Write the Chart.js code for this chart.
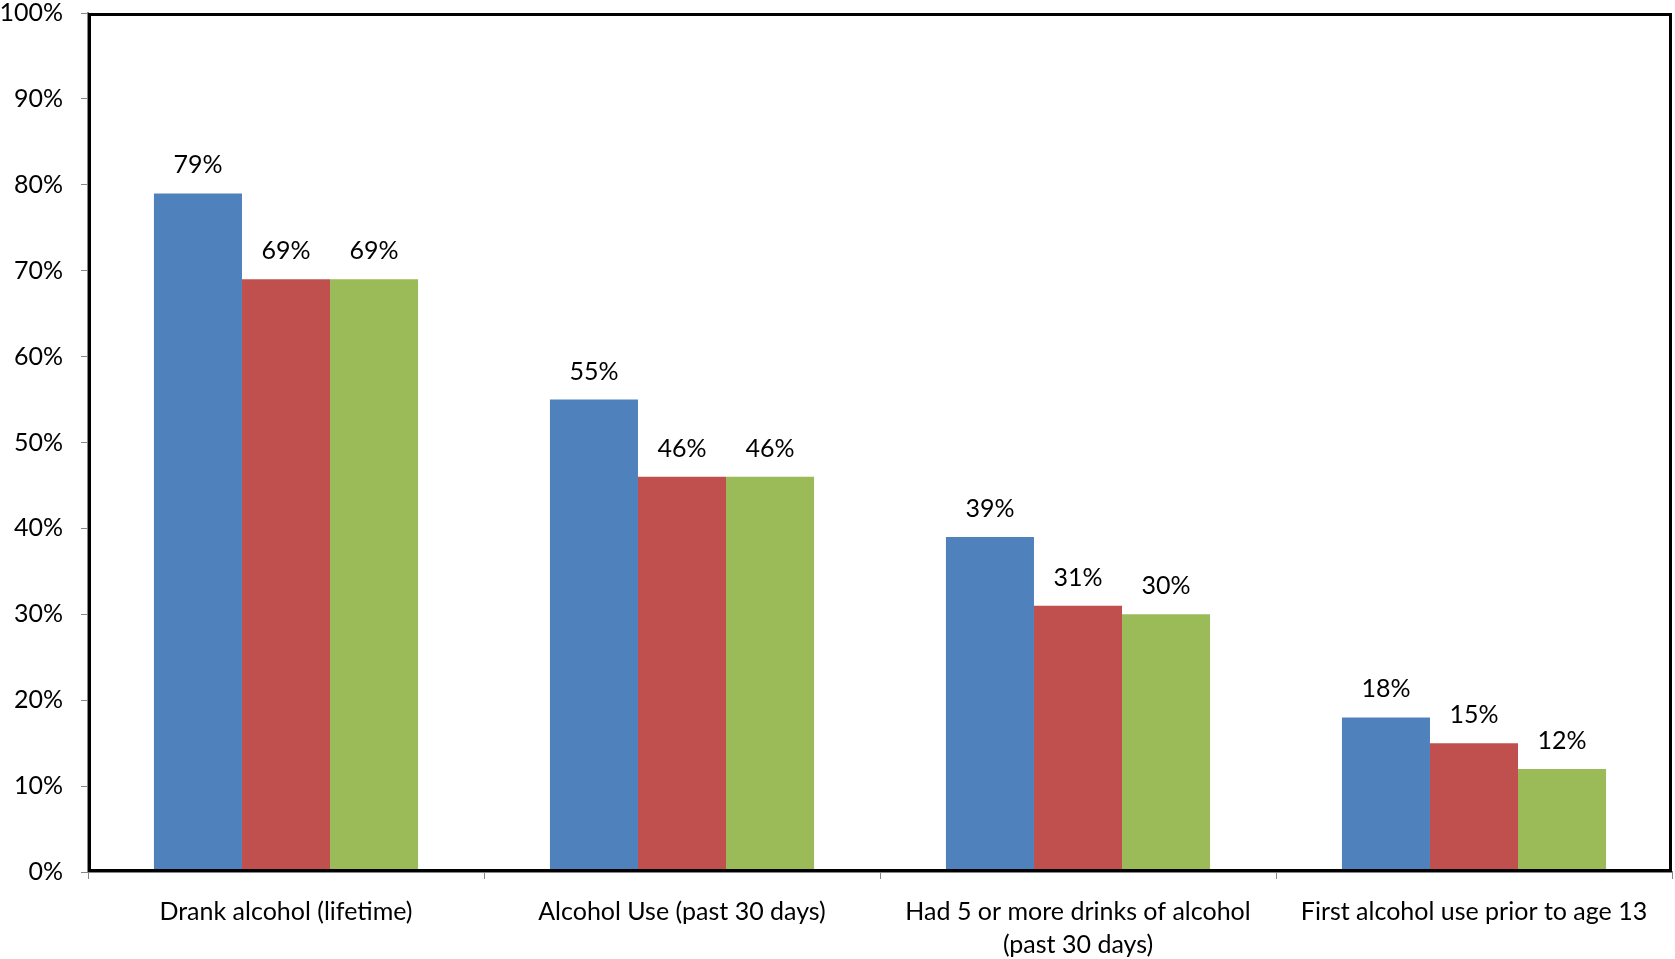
<!DOCTYPE html>
<html>
<head>
<meta charset="utf-8">
<script src="https://cdn.jsdelivr.net/npm/chart.js@4"></script>
<style>
  html, body { margin: 0; padding: 0; background: #fff; }
  canvas { display: block; }
</style>
</head>
<body>
<canvas id="chart" width="1675" height="959"></canvas>
<script>
// Alcohol use indicators, three groups (blue / red / green)
const categories = [
  'Drank alcohol (lifetime)',
  'Alcohol Use (past 30 days)',
  ['Had 5 or more drinks of alcohol', '(past 30 days)'],
  'First alcohol use prior to age 13'
];
const seriesBlue = [79, 55, 39, 18];
const seriesRed = [69, 46, 31, 15];
const seriesGreen = [69, 46, 30, 12];
const yTicks = [0, 10, 20, 30, 40, 50, 60, 70, 80, 90, 100];

const FONT = 'Lato, "Open Sans", sans-serif';

// black frame around the plot area
const framePlugin = {
  id: 'frame',
  afterDatasetsDraw(chart) {
    const a = chart.chartArea, ctx = chart.ctx;
    ctx.save();
    ctx.strokeStyle = '#000';
    ctx.lineWidth = 3;
    ctx.strokeRect(a.left + 1.5, a.top + 1.5, a.right - a.left - 3, a.bottom - a.top - 3);
    ctx.restore();
  }
};

// value labels above each bar
const valueLabels = {
  id: 'valueLabels',
  afterDatasetsDraw(chart) {
    const ctx = chart.ctx;
    ctx.save();
    ctx.font = '25px ' + FONT;
    ctx.fillStyle = '#000';
    ctx.textAlign = 'center';
    ctx.textBaseline = 'middle';
    chart.data.datasets.forEach((ds, i) => {
      chart.getDatasetMeta(i).data.forEach((bar, j) => {
        ctx.fillText(ds.data[j] + '%', bar.x, bar.y - 28);
      });
    });
    ctx.restore();
  }
};

new Chart(document.getElementById('chart'), {
  type: 'bar',
  data: {
    labels: categories,
    datasets: [
      { label: 'Series 1', data: seriesBlue, backgroundColor: '#4F81BD' },
      { label: 'Series 2', data: seriesRed, backgroundColor: '#C0504D' },
      { label: 'Series 3', data: seriesGreen, backgroundColor: '#9BBB59' }
    ]
  },
  options: {
    responsive: false,
    animation: false,
    layout: { padding: { top: 0, right: 3, left: 0, bottom: 0 } },
    datasets: { bar: { categoryPercentage: 0.667, barPercentage: 1.0 } },
    plugins: { legend: { display: false }, tooltip: { enabled: false } },
    scales: {
      x: {
        afterFit(axis) { axis.height = 87; },
        grid: { drawOnChartArea: false, drawTicks: true, tickLength: 7, color: '#868686', offset: true },
        border: { color: '#868686', width: 2 },
        ticks: { color: '#000', font: { family: FONT, size: 25, lineHeight: 1.3 }, padding: 17, maxRotation: 0 }
      },
      y: {
        min: 0, max: 100,
        afterFit(axis) { axis.width = 88; axis.paddingTop = 13; },
        afterBuildTicks(axis) { axis.ticks = yTicks.map(v => ({ value: v })); },
        grid: { drawOnChartArea: false, drawTicks: true, tickLength: 7, color: '#868686' },
        border: { color: '#868686', width: 2 },
        ticks: {
          color: '#000', font: { family: FONT, size: 25 }, padding: 18,
          callback: v => v + '%'
        }
      }
    }
  },
  plugins: [framePlugin, valueLabels]
});
</script>
</body>
</html>
